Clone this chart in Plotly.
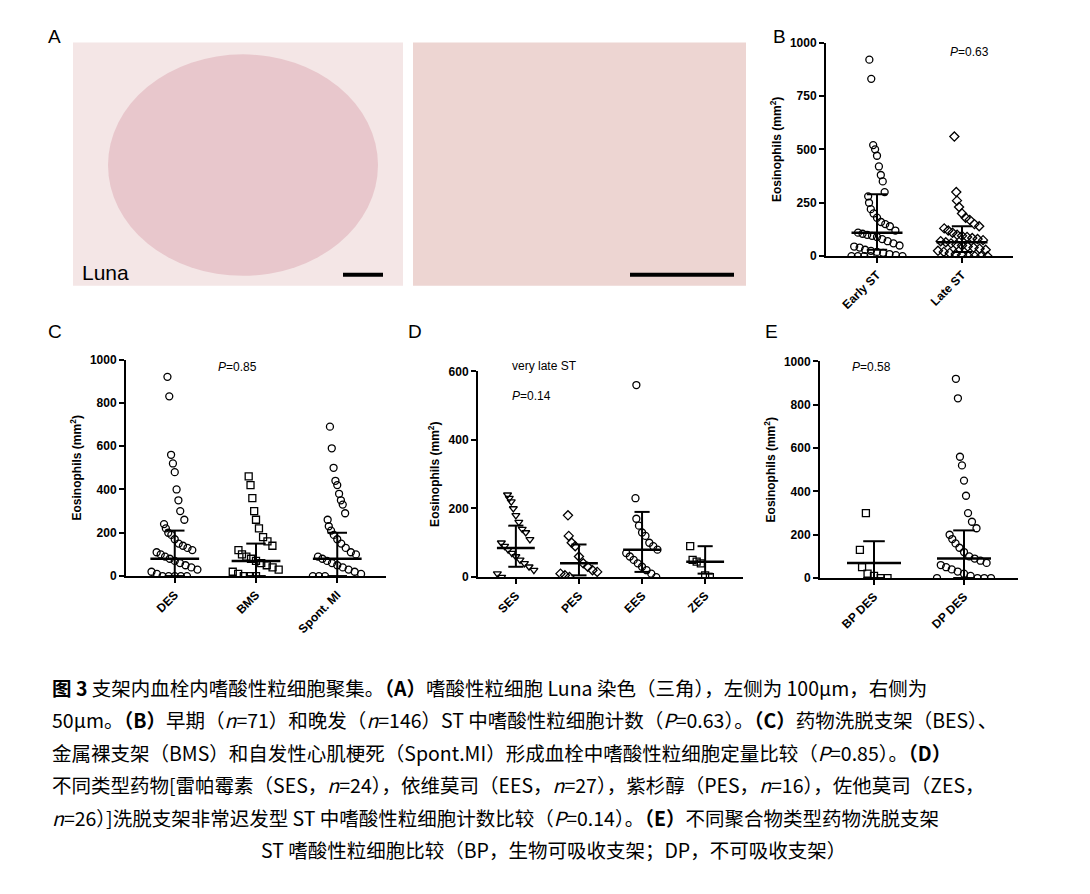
import plotly.graph_objects as go

W, H = 1090, 894
def px(x): return x / W
def py(y): return 1 - y / H

# ---------------- data ----------------
b_cats = ["Early ST", "Late ST"]
b_vals = [
    [920, 830, 520, 500, 470, 420, 380, 350, 300, 280, 250, 220, 200, 180, 160, 150, 140, 120, 110, 105, 100, 95, 90, 80, 70, 60, 50, 45, 40, 30, 25, 20, 15, 10, 5, 0, 0, 0, 0, 0],
    [560, 300, 260, 230, 200, 180, 170, 150, 140, 130, 120, 110, 100, 95, 90, 85, 80, 75, 70, 65, 60, 55, 50, 45, 40, 35, 30, 25, 20, 15, 10, 5, 0, 0, 0, 0],
]
b_stats = [(110, 30, 290), (65, 20, 140)]
b_sym = ["circle-open", "diamond-open"]

c_cats = ["DES", "BMS", "Spont. MI"]
c_vals = [
    [920, 830, 560, 520, 480, 400, 350, 300, 260, 240, 220, 200, 190, 170, 150, 140, 130, 120, 110, 100, 90, 80, 70, 60, 50, 40, 30, 20, 10, 0, 0, 0, 0, 0],
    [460, 420, 360, 300, 260, 220, 180, 160, 140, 120, 100, 90, 80, 70, 60, 50, 40, 30, 20, 10, 0, 0, 0],
    [690, 590, 500, 440, 420, 380, 350, 330, 290, 260, 230, 210, 190, 170, 150, 130, 110, 100, 90, 80, 70, 60, 50, 40, 30, 20, 10, 0, 0, 0],
]
c_stats = [(80, 0, 210), (70, 0, 150), (80, 0, 200)]
c_sym = ["circle-open", "square-open", "circle-open"]

d_cats = ["SES", "PES", "EES", "ZES"]
d_vals = [
    [240, 230, 220, 200, 180, 160, 140, 130, 110, 100, 90, 80, 70, 60, 50, 40, 30, 20, 10, 0],
    [180, 120, 100, 90, 60, 40, 30, 20, 15, 10, 5, 0],
    [560, 230, 170, 150, 130, 120, 100, 90, 80, 70, 60, 50, 40, 30, 20, 10, 0],
    [90, 50, 45, 40, 5, 0],
]
d_stats = [(85, 30, 150), (40, 5, 95), (80, 15, 190), (45, 10, 90)]
d_sym = ["triangle-down-open", "diamond-open", "circle-open", "square-open"]

e_cats = ["BP DES", "DP DES"]
e_vals = [
    [300, 130, 50, 20, 10, 0, 0],
    [920, 830, 560, 520, 450, 380, 300, 260, 230, 200, 180, 160, 140, 120, 100, 90, 80, 70, 60, 50, 40, 30, 20, 10, 0, 0, 0, 0],
]
e_stats = [(70, 0, 170), (90, 0, 220)]
e_sym = ["square-open", "circle-open"]

fig = go.Figure()
AX = dict(family="Liberation Sans", size=12, color="black")

panels = [
    ("", b_cats, b_vals, b_stats, b_sym, (818, 1005), (28, 245), 1000, [0, 250, 500, 750, 1000]),
    ("2", c_cats, c_vals, c_stats, c_sym, (118, 378), (350, 570), 1000, [0, 200, 400, 600, 800, 1000]),
    ("3", d_cats, d_vals, d_stats, d_sym, (470, 735), (362, 571), 600, [0, 200, 400, 600]),
    ("4", e_cats, e_vals, e_stats, e_sym, (812, 1010), (352, 572), 1000, [0, 200, 400, 600, 800, 1000]),
]

for sfx, cats, vals, stats, syms, (x0, x1), (y0, y1), ymax, ytk in panels:
    xr, yr = "x" + sfx, "y" + sfx
    for i, (v, st, sy) in enumerate(zip(vals, stats, syms)):
        offs = [((k % 9) - 4) * 0.075 * (0.3 + 0.7 * (1 - min(val, 300) / 300)) for k, val in enumerate(v)]
        fig.add_trace(go.Scatter(x=[i + o for o in offs], y=v, mode="markers", xaxis=xr, yaxis=yr,
                                 marker=dict(symbol=sy, size=7, color="black", line=dict(width=1.3, color="black")),
                                 showlegend=False))
        med, lo, hi = st
        fig.add_trace(go.Scatter(x=[i - 0.3, i + 0.3], y=[med, med], mode="lines", xaxis=xr, yaxis=yr,
                                 line=dict(color="black", width=2.5), showlegend=False))
        fig.add_trace(go.Scatter(x=[i, i, None, i - 0.12, i + 0.12, None, i - 0.12, i + 0.12],
                                 y=[lo, hi, None, hi, hi, None, lo, lo], mode="lines", xaxis=xr, yaxis=yr,
                                 line=dict(color="black", width=2), showlegend=False))
    n = len(cats)
    fig.layout["xaxis" + sfx] = dict(domain=[px(x0), px(x1)], anchor=yr, range=[-0.6, n - 0.4],
                                     tickvals=list(range(n)), ticktext=["<b>%s</b>" % c for c in cats], tickangle=-45,
                                     showline=True, linecolor="black", linewidth=2, ticks="outside",
                                     tickcolor="black", tickwidth=2, showgrid=False, zeroline=False, tickfont=AX)
    fig.layout["yaxis" + sfx] = dict(domain=[py(y1), py(y0)], anchor=xr, range=[0, ymax], tickvals=ytk,
                                     ticktext=["<b>%d</b>" % t for t in ytk],
                                     showline=True, linecolor="black", linewidth=2, ticks="outside",
                                     tickcolor="black", tickwidth=2, showgrid=False, zeroline=False,
                                     title=dict(text="<b>Eosinophils (mm<sup>2</sup>)</b>", standoff=6, font=AX),
                                     tickfont=AX)

shapes = [
    dict(type="rect", xref="paper", yref="paper", x0=px(65), x1=px(395), y0=py(275), y1=py(28),
         fillcolor="#f4e6e6", line=dict(width=0), layer="below"),
    dict(type="circle", xref="paper", yref="paper", x0=px(100), x1=px(370), y0=py(265), y1=py(40),
         fillcolor="#e8c7cc", line=dict(width=0), layer="below"),
    dict(type="rect", xref="paper", yref="paper", x0=px(405), x1=px(738), y0=py(275), y1=py(28),
         fillcolor="#edd5d2", line=dict(width=0), layer="below"),
    dict(type="line", xref="paper", yref="paper", x0=px(335), x1=px(375), y0=py(264), y1=py(264),
         line=dict(color="black", width=4)),
    dict(type="line", xref="paper", yref="paper", x0=px(622), x1=px(726), y0=py(264), y1=py(264),
         line=dict(color="black", width=4)),
]
fig.update_layout(shapes=shapes)

ann = []
def A(x, y, t, size=15, **kw):
    d = dict(x=px(x), y=py(y), xref="paper", yref="paper", text=t, showarrow=False,
             font=dict(family="Liberation Sans", size=size, color="black"), xanchor="left", yanchor="middle")
    d.update(kw)
    ann.append(d)

for (x, y, t) in [(38, 22, "A"), (763, 22, "B"), (38, 322, "C"), (398, 322, "D"), (755, 322, "E")]:
    A(x, y, t, 19)
A(72, 262, "Luna", 21)
A(940, 38, "<i>P</i>=0.63", 12); A(208, 358, "<i>P</i>=0.85", 12)
A(502, 357, "very late ST", 12); A(502, 387, "<i>P</i>=0.14", 12); A(842, 358, "<i>P</i>=0.58", 12)

CF = dict(family="Noto Sans CJK SC", size=19.5, color="black")
cap = [
    "<b>图 3</b> 支架内血栓内嗜酸性粒细胞聚集。<b>（A）</b>嗜酸性粒细胞 Luna 染色（三角），左侧为 100μm，右侧为",
    "50μm。<b>（B）</b>早期（<i>n</i>=71）和晚发（<i>n</i>=146）ST 中嗜酸性粒细胞计数（<i>P</i>=0.63）。<b>（C）</b>药物洗脱支架（BES）、",
    "金属裸支架（BMS）和自发性心肌梗死（Spont.MI）形成血栓中嗜酸性粒细胞定量比较（<i>P</i>=0.85）。<b>（D）</b>",
    "不同类型药物[雷帕霉素（SES，<i>n</i>=24），依维莫司（EES，<i>n</i>=27），紫杉醇（PES，<i>n</i>=16），佐他莫司（ZES，",
    "<i>n</i>=26）]洗脱支架非常迟发型 ST 中嗜酸性粒细胞计数比较（<i>P</i>=0.14）。<b>（E）</b>不同聚合物类型药物洗脱支架",
]
for k, t in enumerate(cap):
    A(42, 683 + k * 33, t, 19, font=CF)
A(545, 848, "ST 嗜酸性粒细胞比较（BP，生物可吸收支架；DP，不可吸收支架）", 19, xanchor="center", font=CF)

fig.update_layout(annotations=ann, width=W, height=H, margin=dict(l=0, r=0, t=0, b=0),
                  paper_bgcolor="white", plot_bgcolor="white")
fig.write_html("out.html")
